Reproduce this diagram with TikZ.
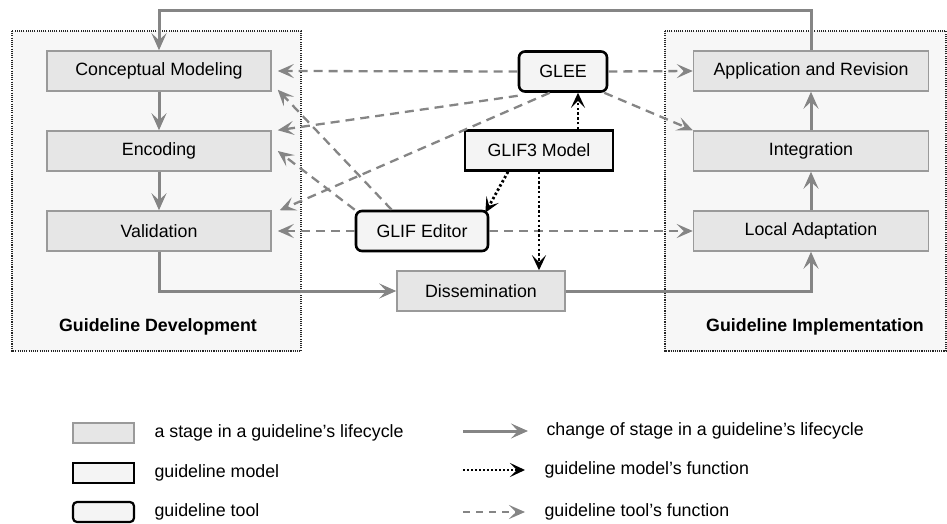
\documentclass[tikz,border=0pt]{standalone}
\usepackage{fontspec}
\setmainfont{Liberation Sans}
\usetikzlibrary{arrows.meta,calc}
\definecolor{stagefill}{HTML}{E6E6E6}
\definecolor{stageline}{HTML}{9A9A9A}
\definecolor{panelfill}{HTML}{F7F7F7}
\definecolor{toolfill}{HTML}{F4F4F4}
\definecolor{arrgray}{HTML}{858585}
\tikzset{
  stagebox/.style={draw=stageline, fill=stagefill, line width=1.5pt, minimum height=40, inner sep=0pt},
  toolbox/.style={draw=black, fill=toolfill, line width=2.6pt, rounded corners=6pt, minimum height=40, inner sep=0pt},
  modelbox/.style={draw=black, fill=toolfill, line width=2.6pt, minimum height=40, inner sep=0pt},
  panel/.style={draw=black!85, fill=panelfill, line width=1.1pt, dash pattern=on 1.1pt off 1.1pt},
  lifearrow/.style={draw=arrgray, line width=3pt, -{Stealth[length=17,width=15,inset=7]}},
  toolarrow/.style={draw=arrgray, line width=2.3pt, dash pattern=on 9pt off 6pt, -{Stealth[length=16,width=14,inset=7]}},
  modelarrow/.style={draw=black, line width=2.8pt, dash pattern=on 2.4pt off 2.4pt, -{Stealth[length=15,width=14,inset=7]}},
  lbl/.style={font=\fontsize{17.8}{20}\selectfont, text=black},
  boldlbl/.style={font=\fontsize{17.8}{20}\selectfont\bfseries, text=black}
}
\begin{document}
\begin{tikzpicture}[x=1pt,y=-1pt]
\useasboundingbox (0,0) rectangle (947,524);
% panels
\draw[panel] (12,31) rectangle (301,351);
\draw[panel] (665,31) rectangle (946,351);
\node[boldlbl] (devlbl) at (158,327) {Guideline Development};
\node[boldlbl] (implbl) at (815,327) {Guideline Implementation};
% stages
\node[stagebox, minimum width=224, lbl] (cm) at (159,71) {Conceptual Modeling};
\node[stagebox, minimum width=224, lbl] (enc) at (159,151) {Encoding};
\node[stagebox, minimum width=224, lbl] (val) at (159,231) {Validation};
\node[stagebox, minimum width=235, lbl] (app) at (811,71) {Application and Revision};
\node[stagebox, minimum width=235, lbl] (integ) at (811,151) {Integration};
\node[stagebox, minimum width=235, lbl] (local) at (811,231) {Local Adaptation};
\node[stagebox, minimum width=168, lbl] (diss) at (481,291) {Dissemination};
% tools and model
\node[toolbox, minimum width=88, lbl] (glee) at (563,71.5) {GLEE};
\node[modelbox, minimum width=148, lbl] (glif3) at (539,150.5) {GLIF3 Model};
\node[toolbox, minimum width=132, lbl] (editor) at (422,231) {GLIF Editor};
% lifecycle arrows
\draw[lifearrow] (app.north) -- ++(0,-40) -| (cm.north);
\draw[lifearrow] (cm.south) -- (enc.north);
\draw[lifearrow] (enc.south) -- (val.north);
\draw[lifearrow] (val.south) |- (diss.west);
\draw[lifearrow] (diss.east) -| (local.south);
\draw[lifearrow] (local.north) -- (integ.south);
\draw[lifearrow] (integ.north) -- (app.south);
% tool functions
\draw[toolarrow] (glee.west) -- ([xshift=6]cm.east);
\draw[toolarrow] (glee.east) -- (app.west);
\draw[toolarrow] ([xshift=-4]glee.south east) -- (integ.north west);
\draw[toolarrow] ([yshift=-3]glee.south west) -- ([xshift=6]enc.north east);
\draw[toolarrow] (glee.238) -- ([xshift=8]val.north east);
\draw[toolarrow] (editor.145) -- ([xshift=6,yshift=2]cm.south east);
\draw[toolarrow] (editor.north west) -- ([xshift=6]enc.east);
\draw[toolarrow] (editor.west) -- ([xshift=6]val.east);
\draw[toolarrow] (editor.east) -- (local.west);
% model functions
\draw[modelarrow] ([xshift=15]glee.south |- glif3.north) -- ([xshift=15]glee.south);
\draw[modelarrow] ([xshift=-31]glif3.south) -- ([xshift=-4,yshift=-3]editor.north east);
\draw[modelarrow] (glif3.south) -- (glif3.south |- diss.north);
% legend
\node[stagebox, minimum width=61, minimum height=20] (lg1) at (103.5,433) {};
\node[modelbox, minimum width=61, minimum height=20, line width=2.2pt] (lg2) at (103.5,473) {};
\node[toolbox, minimum width=61, minimum height=20, line width=2.2pt, rounded corners=4pt] (lg3) at (103.5,512) {};
\node[lbl, anchor=west] (lt1) at (151,433) {a stage in a guideline’s lifecycle};
\node[lbl, anchor=west] (lt2) at (151,473) {guideline model};
\node[lbl, anchor=west] (lt3) at (151,512) {guideline tool};
\coordinate (la1) at (463,431); \coordinate (lb1) at (528,431);
\coordinate (la2) at (463,470); \coordinate (lb2) at (525,470);
\coordinate (la3) at (463,512); \coordinate (lb3) at (525,512);
\draw[lifearrow] (la1) -- (lb1);
\draw[modelarrow, dash pattern=on 2pt off 2pt, line width=2.2pt] (la2) -- (lb2);
\draw[toolarrow, dash pattern=on 7pt off 6pt, line width=1.8pt] (la3) -- (lb3);
\node[lbl, anchor=west] (rt1) at (543,431) {change of stage in a guideline’s lifecycle};
\node[lbl, anchor=west] (rt2) at (541,470) {guideline model’s function};
\node[lbl, anchor=west] (rt3) at (541,512) {guideline tool’s function};
\end{tikzpicture}
\end{document}
